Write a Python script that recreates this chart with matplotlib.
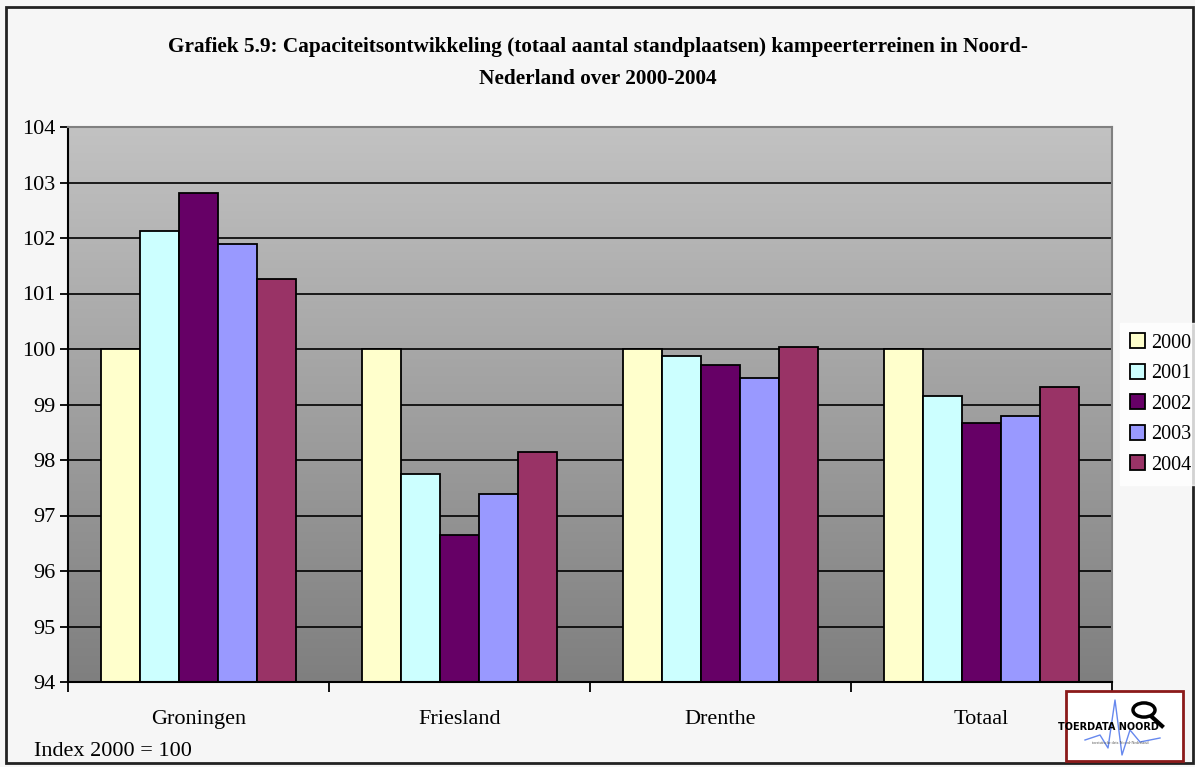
import numpy as np
import matplotlib.pyplot as plt
from matplotlib.patches import Rectangle, Circle
from matplotlib.ticker import FixedLocator
from matplotlib.colors import LinearSegmentedColormap

regios = ['Groningen', 'Friesland', 'Drenthe', 'Totaal']
jaren = ['2000', '2001', '2002', '2003', '2004']
waarden = {
    '2000': [100.0, 100.0, 100.0, 100.0],
    '2001': [102.12, 97.75, 99.88, 99.16],
    '2002': [102.81, 96.64, 99.71, 98.66],
    '2003': [101.90, 97.39, 99.48, 98.80],
    '2004': [101.26, 98.15, 100.04, 99.31],
}
kleuren = ['#FFFFCC', '#CCFFFF', '#660066', '#9999FF', '#993366']

titel = ('Grafiek 5.9: Capaciteitsontwikkeling (totaal aantal standplaatsen) kampeerterreinen in Noord-\n'
         'Nederland over 2000-2004')

plt.rcParams['font.family'] = ['Liberation Serif', 'DejaVu Serif']

fig = plt.figure(figsize=(11.95, 7.67), dpi=100)
fig.patch.set_facecolor('#f6f6f6')
W, H = 1195, 767

ax = fig.add_axes([68 / W, 1 - 682 / H, (1112 - 68) / W, (682 - 127) / H])
ax.set_xlim(0, 4)
ax.set_ylim(94, 104)

# grijze gradient achtergrond (donker onder, licht boven)
grijs = LinearSegmentedColormap.from_list('grijs', ['#7f7f7f', '#c2c2c2'])
grad = np.linspace(0, 1, 256).reshape(-1, 1)
ax.imshow(grad, extent=[0, 4, 94, 104], aspect='auto', cmap=grijs,
          origin='lower', zorder=0)

for y in range(95, 104):
    ax.axhline(y, color='black', lw=1.2, zorder=1)

x = np.arange(len(regios)) + 0.5
bw = 0.15
for i, jaar in enumerate(jaren):
    ax.bar(x + (i - 2) * bw, np.array(waarden[jaar]) - 94, bw, bottom=94,
           color=kleuren[i], edgecolor='black', lw=1.3, zorder=2, label=jaar)

ax.set_yticks(range(94, 105))
ax.set_xticks(x)
ax.set_xticklabels(regios, fontsize=16)
ax.xaxis.set_minor_locator(FixedLocator([0, 1, 2, 3, 4]))
ax.tick_params(axis='x', which='major', length=0, pad=20)
ax.tick_params(axis='x', which='minor', length=7, width=1.3, direction='out')
ax.tick_params(axis='y', labelsize=16, length=6, width=1.3, direction='out', pad=3)

for s in ['left', 'bottom']:
    ax.spines[s].set_linewidth(1.5)
    ax.spines[s].set_color('black')
for s in ['top', 'right']:
    ax.spines[s].set_linewidth(1.5)
    ax.spines[s].set_color('#808080')

leg = fig.legend(loc='center left', bbox_to_anchor=(1120 / W, 1 - 404 / H),
                 fontsize=14.5, frameon=True, fancybox=False, handlelength=0.75,
                 handleheight=0.75, handletextpad=0.3, labelspacing=0.55,
                 borderpad=0.5, borderaxespad=0)
leg.get_frame().set_facecolor('white')
leg.get_frame().set_edgecolor('white')

fig.text(598 / W, 1 - 63 / H, titel, ha='center', va='center', fontsize=15.3,
         fontweight='bold', linespacing=1.85)
fig.text(34 / W, 1 - 751 / H, 'Index 2000 = 100', ha='left', va='center', fontsize=16)

# rand rond de figuur
fig.patches.append(Rectangle((6 / W, 4 / H), 1187 / W, 756 / H, transform=fig.transFigure,
                             fill=False, edgecolor='#222222', lw=2))

# logo
lx0, ly0, lx1, ly1 = 1066, 691, 1183, 761
fig.patches.append(Rectangle((lx0 / W, 1 - ly1 / H), (lx1 - lx0) / W, (ly1 - ly0) / H,
                             transform=fig.transFigure, facecolor='white',
                             edgecolor='#8B1A1A', lw=2, zorder=3))
golf_x = np.array([1085, 1100, 1108, 1115, 1122, 1130, 1140, 1160]) / W
golf_y = 1 - np.array([740, 735, 748, 700, 755, 730, 742, 738]) / H
fig.lines.append(plt.Line2D(golf_x, golf_y, transform=fig.transFigure,
                            color='#6688ee', lw=1, zorder=4))
fig.patches.append(Circle((1144 / W, 1 - 710 / H), 11 / W, transform=fig.transFigure,
                          fill=False, edgecolor='black', lw=2.5, zorder=4))
fig.lines.append(plt.Line2D(np.array([1152, 1162]) / W, 1 - np.array([717, 726]) / H,
                            transform=fig.transFigure, color='black', lw=3, zorder=4))
fig.text(1108 / W, 1 - 727 / H, 'TOERDATA NOORD', ha='center', va='center',
         fontsize=7, fontweight='bold', family='Liberation Sans Narrow', zorder=5)
fig.text(1120 / W, 1 - 743 / H, 'toeristische data Noord-Nederland', ha='center',
         va='center', fontsize=3, color='#555555', zorder=5)

fig.savefig('out.png', dpi=100, facecolor=fig.get_facecolor())
